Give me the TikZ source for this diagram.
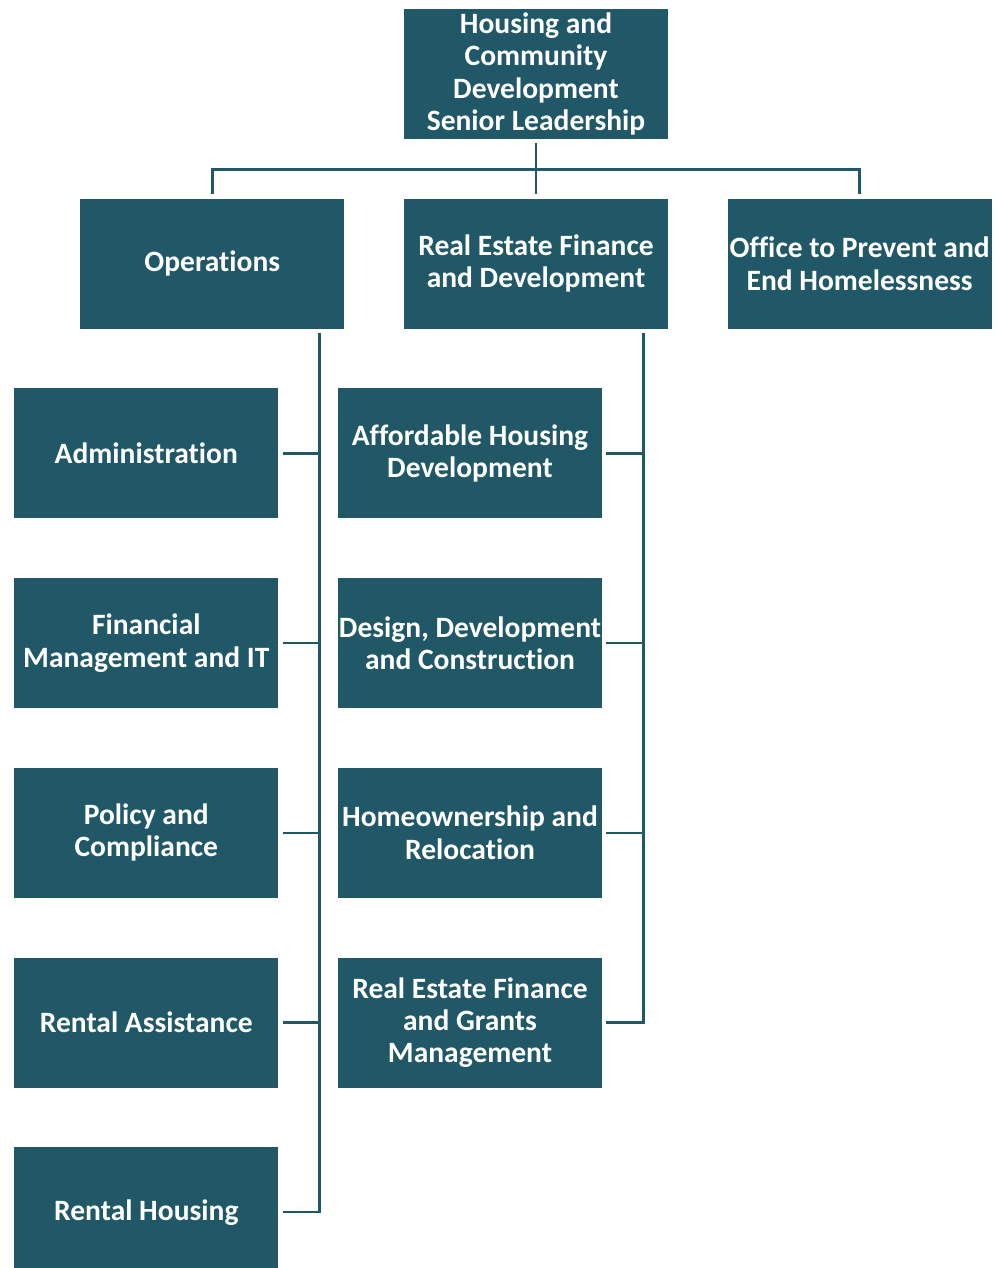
\documentclass[tikz,border=0pt]{standalone}
\usepackage{fontspec}
\setmainfont{Carlito}[Ligatures=NoCommon]
\definecolor{petrol}{HTML}{215867}
\usetikzlibrary{positioning}

\begin{document}
\begin{tikzpicture}[
    font=\fontsize{16.8}{18.3}\selectfont\bfseries,
    node distance=1.18cm,
    unit/.style={rectangle, fill=petrol, text=white, draw=none, align=center,
      minimum width=5.28cm, minimum height=2.6cm, inner sep=0pt},
    link/.style={draw=petrol, line width=1.4pt},
    gap/.style={shorten <=0.08cm}
  ]
    \clip (0,0) rectangle (19.96,-25.36);

    \node[unit] (senior) at (10.72,-1.48) {Housing and\\Community\\Development\\Senior Leadership};
    \node[unit, below=of senior] (refd) {Real Estate Finance\\and Development};
    \node[unit, left=of refd] (ops) {Operations};
    \node[unit, right=of refd] (opeh) {Office to Prevent and\\End Homelessness};

    % Operations column
    \node[unit, below=of ops, xshift=-1.32cm] (admin) {Administration};
    \node[unit, below=of admin] (finit) {Financial\\Management and IT};
    \node[unit, below=of finit] (policy) {Policy and\\Compliance};
    \node[unit, below=of policy] (rassist) {Rental Assistance};
    \node[unit, below=of rassist] (rhousing) {Rental Housing};

    % Real Estate column
    \node[unit, below=of refd, xshift=-1.32cm] (afford) {Affordable Housing\\Development};
    \node[unit, below=of afford] (design) {Design, Development\\and Construction};
    \node[unit, below=of design] (homeown) {Homeownership and\\Relocation};
    \node[unit, below=of homeown] (grants) {Real Estate Finance\\and Grants\\Management};

    \coordinate (bar) at ([yshift=-0.6cm]senior.south);
    \coordinate (opsbus) at ([xshift=-0.5cm]ops.south east);
    \coordinate (refdbus) at ([xshift=-0.5cm]refd.south east);

    % top level
    \draw[link, shorten <=0.08cm, shorten >=0.08cm] (senior.south) -- (refd.north);
    \draw[link, shorten <=0.08cm, shorten >=0.08cm] (ops.north) |- (bar) -| (opeh.north);

    % buses
    \draw[link, shorten <=0.08cm, shorten >=0.08cm] (opsbus) |- (rhousing.east);
    \draw[link, shorten <=0.08cm, shorten >=0.08cm] (refdbus) |- (grants.east);
    \foreach \n in {admin,finit,policy,rassist}
      \draw[link, gap] (\n.east) -- (\n.east -| opsbus);
    \foreach \n in {afford,design,homeown}
      \draw[link, gap] (\n.east) -- (\n.east -| refdbus);
\end{tikzpicture}
\end{document}
